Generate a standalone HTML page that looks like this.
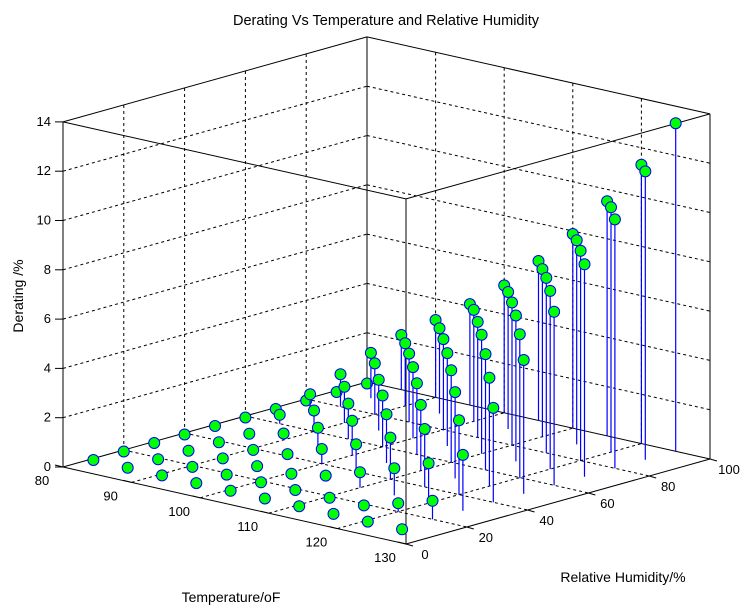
<!DOCTYPE html>
<html><head><meta charset="utf-8"><style>
html,body{margin:0;padding:0;background:#fff;}
svg{display:block;font-family:"Liberation Sans",sans-serif;font-size:12px;}
</style></head><body>
<svg id="chart" width="749" height="614" viewBox="0 0 749 614" xmlns="http://www.w3.org/2000/svg">
<rect width="749" height="614" fill="#fff"/>
<g id="grid"></g>
<g id="box"></g>
<g id="ticks"></g>
<g id="marks"></g>
<text x="386" y="25" text-anchor="middle" font-size="14.5">Derating Vs Temperature and Relative Humidity</text>
<text x="231" y="602" text-anchor="middle" font-size="14">Temperature/oF</text>
<text x="623" y="582" text-anchor="middle" font-size="14">Relative Humidity/%</text>
<text x="0" y="0" transform="translate(23,296) rotate(-90)" text-anchor="middle" font-size="14">Derating /%</text>
</svg>
<script>
const temps = [80, 85, 90, 95, 100, 105, 110, 115, 120, 125];
const humidities = [10, 20, 30, 40, 50, 60, 70, 80, 90, 100];
const derating_T80  = [0,0,0,0,0,0,0,0,0,0];
const derating_T85  = [0,0,0,0,0,0.42,0.91,1.38,1.90,2.28];
const derating_T90  = [0,0,0,0,0.32,0.91,1.53,2.13,2.60,3.20];
const derating_T95  = [0,0,0,0.14,0.87,1.50,2.12,2.84,3.52,4.16];
const derating_T100 = [0,0,0,0.66,1.46,2.14,2.95,3.74,4.58,5.23];
const derating_T105 = [0,0,0.24,1.17,2.04,2.95,3.83,4.75,5.62,6.53];
const derating_T110 = [0,0,0.69,1.75,2.73,3.79,4.89,5.85,6.86,7.94];
const derating_T115 = [0,0,1.16,2.41,3.56,4.76,5.98,7.16,8.34,9.58];
const derating_T120 = [0,0.40,1.68,3.08,4.46,5.88,7.29,8.57,9.99,11.37];
const derating_T125 = [0,0.81,2.33,3.89,5.49,7.10,8.68,10.16,11.76,13.37];
const derating = [derating_T80,derating_T85,derating_T90,derating_T95,derating_T100,derating_T105,derating_T110,derating_T115,derating_T120,derating_T125];
const tTicks = [80, 90, 100, 110, 120, 130];
const rhTicks = [0, 20, 40, 60, 80, 100];
const zTicks = [0, 2, 4, 6, 8, 10, 12, 14];

const NS = "http://www.w3.org/2000/svg";
function P(t, rh, z){
  return [63 + 6.86*(t-80) + 3.04*rh, 467 + 1.54*(t-80) - 0.85*rh - 24.65*z];
}
function line(g, a, b, dash, color, name, w){
  const l = document.createElementNS(NS, "line");
  l.setAttribute("x1", a[0].toFixed(1)); l.setAttribute("y1", a[1].toFixed(1));
  l.setAttribute("x2", b[0].toFixed(1)); l.setAttribute("y2", b[1].toFixed(1));
  l.setAttribute("stroke", color || "#000"); l.setAttribute("stroke-width", w || "1");
  if (dash) l.setAttribute("stroke-dasharray", "3,3");
  
  
  g.appendChild(l); return l;
}
function text(g, x, y, s, anchor, name){
  const t = document.createElementNS(NS, "text");
  t.setAttribute("x", x.toFixed(1)); t.setAttribute("y", y.toFixed(1));
  t.setAttribute("text-anchor", anchor); t.textContent = s;
  t.setAttribute("font-size", "13");
  
  
  g.appendChild(t);
}
const grid = document.getElementById("grid");
const box = document.getElementById("box");
const ticks = document.getElementById("ticks");
const marks = document.getElementById("marks");
tTicks.slice(1,-1).forEach(t=>{
  line(grid, P(t,0,0), P(t,100,0), true, "#000", "floor-grid-t");
  line(grid, P(t,100,0), P(t,100,14), true, "#000", "back-wall-grid-t");
});
rhTicks.slice(1,-1).forEach(r=>{
  line(grid, P(80,r,0), P(130,r,0), true, "#000", "floor-grid-rh");
  line(grid, P(80,r,0), P(80,r,14), true, "#000", "side-wall-grid-rh");
});
zTicks.slice(1,-1).forEach(z=>{
  line(grid, P(80,0,z), P(80,100,z), true, "#000", "side-wall-grid-z");
  line(grid, P(80,100,z), P(130,100,z), true, "#000", "back-wall-grid-z");
});
const corners = [[80,0],[130,0],[130,100],[80,100]];
for (let k=0;k<4;k++){
  const a=corners[k], b=corners[(k+1)%4];
  line(box, P(a[0],a[1],0), P(b[0],b[1],0), false, "#000", "box-edge-bottom");
  line(box, P(a[0],a[1],14), P(b[0],b[1],14), false, "#000", "box-edge-top");
  line(box, P(a[0],a[1],0), P(a[0],a[1],14), false, "#000", "box-edge-vertical");
}
tTicks.forEach(t=>{
  const p=P(t,0,0);
  line(ticks, p, [p[0]-8, p[1]-2], false, "#000", "x-tick");
  text(ticks, p[0]-21, p[1]+18, String(t), "middle", "x-tick-label");
});
rhTicks.forEach(r=>{
  const p=P(130,r,0);
  line(ticks, p, [p[0]+7, p[1]+2], false, "#000", "y-tick");
  text(ticks, p[0]+19, p[1]+15, String(r), "middle", "y-tick-label");
});
zTicks.forEach(z=>{
  const p=P(80,0,z);
  line(ticks, p, [p[0]-8, p[1]], false, "#000", "z-tick");
  text(ticks, p[0]-12, p[1]+4, String(z), "end", "z-tick-label");
});
const pts=[];
temps.forEach((t,i)=>humidities.forEach((r,j)=>pts.push([t,r,derating[i][j]])));
pts.sort((a,b)=>(P(a[0],a[1],0)[1])-(P(b[0],b[1],0)[1]));
pts.forEach(d=>{
  const b=P(d[0],d[1],0), tp=P(d[0],d[1],d[2]);
  if (d[2]>0.05) line(marks, b, tp, false, "#0000ff", "stem-line", "1.2");
  const c=document.createElementNS(NS,"circle");
  c.setAttribute("cx", tp[0].toFixed(1)); c.setAttribute("cy", (tp[1]+1.5).toFixed(1));
  c.setAttribute("r","5.5"); c.setAttribute("fill","#00ff00");
  c.setAttribute("stroke","#0000ff"); c.setAttribute("stroke-width","1");
  
  
  marks.appendChild(c);
});
</script>
</body></html>
